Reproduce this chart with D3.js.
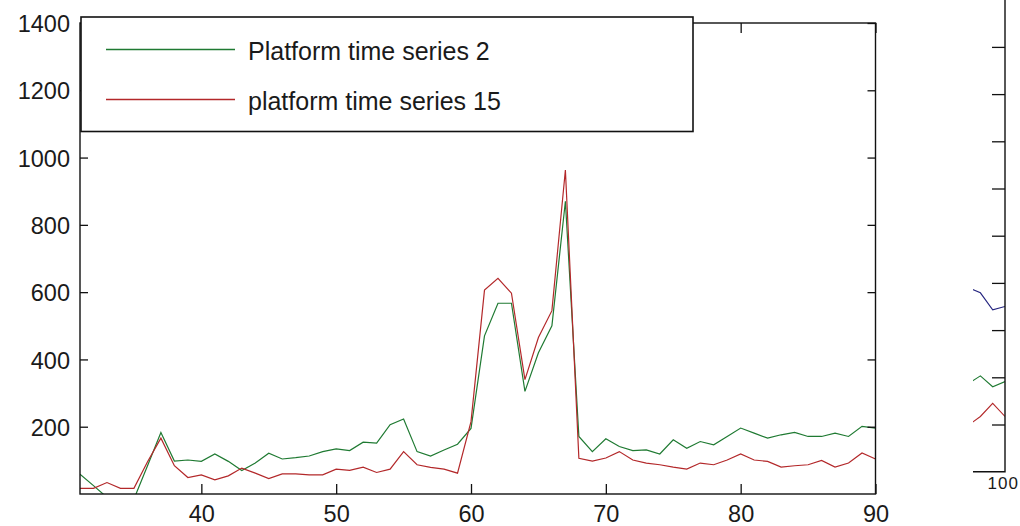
<!DOCTYPE html>
<html>
<head>
<meta charset="utf-8">
<script src="https://cdn.jsdelivr.net/npm/d3@7"></script>
<style>
  html, body { margin: 0; padding: 0; background: #fff; overflow: hidden; }
  svg { display: block; }
  text { font-family: "Liberation Sans", Arial, Helvetica, sans-serif; fill: #1a1a1a; }
</style>
</head>
<body>
<svg id="chart" width="1020" height="526"></svg>
<script>
// Sample index (x) for both platform series
const samples = [31, 32, 33, 34, 35, 36, 37, 38, 39, 40,
                 41, 42, 43, 44, 45, 46, 47, 48, 49, 50,
                 51, 52, 53, 54, 55, 56, 57, 58, 59, 60,
                 61, 62, 63, 64, 65, 66, 67, 68, 69, 70,
                 71, 72, 73, 74, 75, 76, 77, 78, 79, 80,
                 81, 82, 83, 84, 85, 86, 87, 88, 89, 90];

const series2 = [59, 25, -10, -20, -15, 83, 183, 98, 101, 97,
                 119, 97, 70, 92, 121, 104, 108, 113, 126, 134,
                 129, 154, 151, 206, 223, 126, 113, 131, 148, 195,
                 470, 567, 567, 305, 420, 500, 870, 171, 126, 164,
                 141, 129, 131, 119, 161, 136, 156, 146, 171, 196,
                 181, 166, 176, 183, 171, 171, 181, 171, 201, 196];

const series15 = [17, 17, 34, 17, 17, 95, 166, 84, 49, 57,
                  42, 54, 77, 62, 46, 60, 60, 57, 57, 74,
                  70, 80, 64, 74, 126, 87, 79, 74, 62, 215,
                  606, 641, 597, 340, 465, 545, 963, 106, 98, 107,
                  126, 101, 92, 87, 80, 74, 92, 87, 101, 119,
                  101, 97, 80, 84, 87, 100, 80, 92, 122, 104];

const legendLabels = ["Platform time series 2", "platform time series 15"];
const xTicks = [40, 50, 60, 70, 80, 90];
const yTicks = [200, 400, 600, 800, 1000, 1200, 1400];

// Neighbouring panel (only its right edge is in view)
const sideX = [97, 98, 99, 100];
const sideBlue = [3.9, 3.79, 3.43, 3.5];
const sideGreen = [1.86, 2.03, 1.8, 1.91];
const sideRed = [0.98, 1.17, 1.45, 1.17];
const sideYTicks = [1, 2, 3, 4, 5, 6, 7, 8, 9];
const sideXTicks = [100];

const GREEN = "#1f7a32", RED = "#b3282a", BLUE = "#262680";
const plain = d3.format("d");

const svg = d3.select("#chart");

// ---------- main panel ----------
const M = { left: 80, right: 875.5, top: 23, bottom: 494 };
const x = d3.scaleLinear().domain([31, 90]).range([M.left, M.right]);
const y = d3.scaleLinear().domain([0, 1400]).range([M.bottom, M.top]);

svg.append("clipPath").attr("id", "mainClip")
  .append("rect").attr("x", M.left).attr("y", M.top)
  .attr("width", M.right - M.left).attr("height", M.bottom - M.top);

const line = d3.line().x((d, i) => x(samples[i])).y(d => y(d));

const plot = svg.append("g").attr("clip-path", "url(#mainClip)");
plot.append("path").datum(series2)
  .attr("d", line).attr("fill", "none").attr("stroke", GREEN).attr("stroke-width", 1.2);
plot.append("path").datum(series15)
  .attr("d", line).attr("fill", "none").attr("stroke", RED).attr("stroke-width", 1.2);

function styleAxis(g) {
  g.select(".domain").remove();
  g.selectAll(".tick line").attr("stroke", "#111").attr("stroke-width", 1.3);
  g.selectAll(".tick text").attr("fill", "#1a1a1a");
}

svg.append("g").attr("transform", `translate(0,${M.bottom})`)
  .call(d3.axisBottom(x).tickValues(xTicks).tickFormat(plain)
    .tickSizeInner(-10).tickSizeOuter(0).tickPadding(11))
  .call(styleAxis)
  .call(g => g.selectAll(".tick text").attr("font-size", 23.5).attr("font-family", null));

svg.append("g").attr("transform", `translate(0,${M.top})`)
  .call(d3.axisTop(x).tickValues(xTicks).tickSizeInner(-10).tickSizeOuter(0).tickFormat(""))
  .call(styleAxis);

svg.append("g").attr("transform", `translate(${M.left},0)`)
  .call(d3.axisLeft(y).tickValues(yTicks).tickFormat(plain)
    .tickSizeInner(-8).tickSizeOuter(0).tickPadding(10))
  .call(styleAxis)
  .call(g => g.selectAll(".tick text").attr("font-size", 23.5).attr("font-family", null).attr("dy", "0.37em"));

svg.append("g").attr("transform", `translate(${M.right},0)`)
  .call(d3.axisRight(y).tickValues(yTicks).tickSizeInner(-8).tickSizeOuter(0).tickFormat(""))
  .call(styleAxis);

svg.append("rect")
  .attr("x", M.left).attr("y", M.top)
  .attr("width", M.right - M.left).attr("height", M.bottom - M.top)
  .attr("fill", "none").attr("stroke", "#111").attr("stroke-width", 1.4);

// ---------- legend ----------
const L = { x: 81, y: 17, w: 612, h: 114.5 };
const legend = svg.append("g");
legend.append("rect")
  .attr("x", L.x).attr("y", L.y).attr("width", L.w).attr("height", L.h)
  .attr("fill", "#fff").attr("stroke", "#111").attr("stroke-width", 1.6);

const legendColors = [GREEN, RED];
const legendRows = [49.5, 99.5];
legendLabels.forEach((lab, i) => {
  legend.append("line")
    .attr("x1", 106).attr("x2", 235)
    .attr("y1", legendRows[i]).attr("y2", legendRows[i])
    .attr("stroke", legendColors[i]).attr("stroke-width", 1.4);
  legend.append("text")
    .attr("x", 248).attr("y", legendRows[i] + 10)
    .attr("font-size", 25)
    .text(lab);
});

// ---------- neighbouring panel edge ----------
const S = { left: 973, right: 1005, top: -0.3, bottom: 471.7 };
const sx = d3.scaleLinear().domain([97.4, 100]).range([S.left, S.right]);
const sy = d3.scaleLinear().domain([0, 10]).range([S.bottom, S.top]);

svg.append("clipPath").attr("id", "sideClip")
  .append("rect").attr("x", S.left).attr("y", 0)
  .attr("width", S.right - S.left).attr("height", S.bottom);

const sideLine = d3.line().x((d, i) => sx(sideX[i])).y(d => sy(d));
const side = svg.append("g").attr("clip-path", "url(#sideClip)");
[[sideBlue, BLUE], [sideGreen, GREEN], [sideRed, RED]].forEach(([vals, c]) => {
  side.append("path").datum(vals)
    .attr("d", sideLine).attr("fill", "none").attr("stroke", c).attr("stroke-width", 1.1);
});

svg.append("g").attr("transform", `translate(${S.right},0)`)
  .call(d3.axisRight(sy).tickValues(sideYTicks).tickSizeInner(-13).tickSizeOuter(0).tickFormat(""))
  .call(styleAxis);

svg.append("g").attr("transform", `translate(0,${S.bottom})`)
  .call(d3.axisBottom(sx).tickValues(sideXTicks).tickFormat(plain)
    .tickSizeInner(0).tickSizeOuter(0).tickPadding(5))
  .call(styleAxis)
  .call(g => g.selectAll(".tick text").attr("font-size", 17).attr("font-family", null)
    .attr("letter-spacing", "1px").attr("text-anchor", "start").attr("dx", -18));

svg.append("path")
  .attr("d", `M${S.left},${S.bottom}H${S.right}V0`)
  .attr("fill", "none").attr("stroke", "#111").attr("stroke-width", 1.4);
</script>
</body>
</html>
